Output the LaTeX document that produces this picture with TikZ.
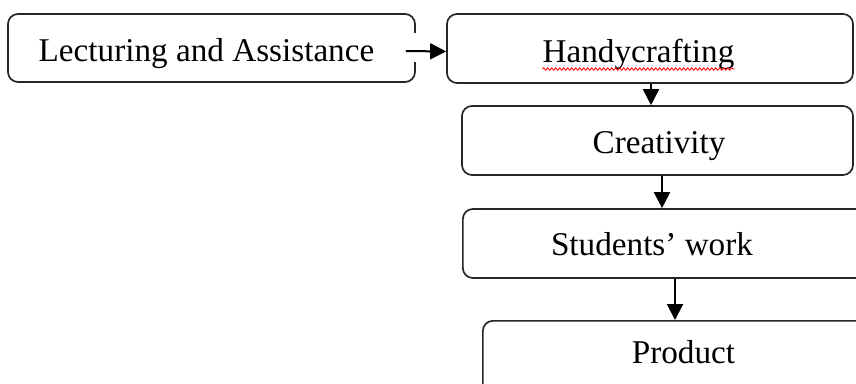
\documentclass[tikz,border=0pt]{standalone}
\usepackage{fontspec}
\setmainfont{Liberation Serif}
\usetikzlibrary{arrows.meta,decorations.pathmorphing}
\begin{document}
\begin{tikzpicture}[x=1pt,y=-1pt,
  box/.style={draw=black!85, line width=1.7pt, rounded corners=10pt, inner sep=0pt},
  lbl/.style={inner sep=0pt, anchor=base, font=\fontsize{33.2}{40}\selectfont},
  arr/.style={line width=2pt, -{Triangle[length=16pt,width=16pt]}}]
\useasboundingbox (0,0) rectangle (856,383);
\clip (0,0) rectangle (856,383);
% boxes
\node[box, minimum width=407pt, minimum height=68pt] (a) at (211.5,48) {};
\node[box, minimum width=406pt, minimum height=69pt] (b) at (650,48.5) {};
\node[box, minimum width=391pt, minimum height=69pt] (c) at (657.5,140.5) {};
\node[box, minimum width=500pt, minimum height=69pt, anchor=west] (d) at (462,243.5) {};
\node[box, minimum width=500pt, minimum height=90pt, anchor=north west] (e) at (482,320) {};
% labels
\node[lbl] (at) at (206.5,61) {Lecturing and Assistance};
\node[lbl] (bt) at (638.5,62) {Handycrafting};
\node[lbl] (ct) at (659,153) {Creativity};
\node[lbl] (dt) at (652,255) {Students’ work};
\node[lbl] (et) at (683.5,363) {Product};
% spell-check squiggle
\draw[red, line width=0.8pt, decorate, decoration={snake, segment length=4pt, amplitude=1.3pt}]
  ([yshift=-7pt]bt.base west) -- ([yshift=-7pt]bt.base east);
% gap in the first box border
\fill[white] (411,33) rectangle (420,62);
% connectors
\draw[arr] ([xshift=-10pt,yshift=-3pt]a.east) -- ([yshift=-3pt]b.west);
\draw[arr] ([xshift=1pt]b.south) -- ([xshift=1pt]b.south |- c.north);
\draw[arr] ([xshift=4.5pt]c.south) -- ([xshift=4.5pt]c.south |- d.north);
\draw[arr] ([xshift=213pt]d.south west) -- ([xshift=213pt]d.south west |- e.north);
\end{tikzpicture}
\end{document}
